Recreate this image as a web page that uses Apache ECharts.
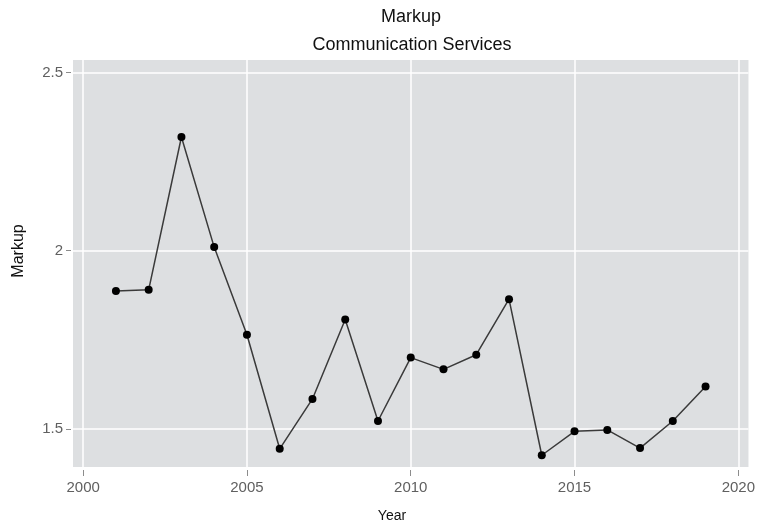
<!DOCTYPE html>
<html>
<head>
<meta charset="utf-8">
<script src="https://cdn.jsdelivr.net/npm/echarts@6/dist/echarts.min.js"></script>
<style>
  html, body { margin: 0; padding: 0; background: #ffffff; }
  #chart { width: 758px; height: 526px; }
</style>
</head>
<body>
<div id="chart"></div>
<script>
// Markup by year, Communication Services sector
const years = [2001, 2002, 2003, 2004, 2005, 2006, 2007, 2008, 2009, 2010,
               2011, 2012, 2013, 2014, 2015, 2016, 2017, 2018, 2019];
const markup = [1.887, 1.890, 2.319, 2.010, 1.764, 1.444, 1.584, 1.807, 1.522, 1.700,
                1.667, 1.708, 1.864, 1.426, 1.493, 1.497, 1.446, 1.522, 1.619];
const xTicks = [2000, 2005, 2010, 2015, 2020];
const yTicks = [1.5, 2, 2.5];

const chartTitle = 'Markup';
const chartSubtitle = 'Communication Services';
const xName = 'Year';
const yName = 'Markup';

const FONT = '"Liberation Sans", Arial, Helvetica, sans-serif';
const PANEL = '#DDDFE1';
const TICK_TEXT = '#606060';
const TICK_LINE = '#8c8c8c';

const chart = echarts.init(document.getElementById('chart'), null, { renderer: 'canvas' });

const points = years.map((y, i) => [y, markup[i]]);

chart.setOption({
  animation: false,
  backgroundColor: '#ffffff',
  grid: {
    left: 73, right: 8, top: 60, bottom: 59,
    show: true, backgroundColor: PANEL, borderWidth: 0
  },
  xAxis: {
    type: 'value',
    min: 1999.69, max: 2020.31,
    offset: 3,
    axisLine: { show: false },
    axisTick: { show: true, length: 6, customValues: xTicks,
                lineStyle: { color: TICK_LINE, width: 1 } },
    axisLabel: { customValues: xTicks, margin: 10, color: TICK_TEXT,
                 fontFamily: FONT, fontSize: 15,
                 formatter: v => String(v) },
    splitLine: { show: true, lineStyle: { color: '#ffffff', width: 1.5 } }
  },
  yAxis: {
    type: 'value',
    min: 1.393, max: 2.535,
    offset: 2,
    axisLine: { show: false },
    axisTick: { show: true, length: 5, customValues: yTicks,
                lineStyle: { color: TICK_LINE, width: 1 } },
    axisLabel: { customValues: yTicks, margin: 8, color: TICK_TEXT,
                 fontFamily: FONT, fontSize: 15,
                 formatter: v => String(v) },
    splitLine: { show: true, lineStyle: { color: '#ffffff', width: 1.5 } }
  },
  graphic: [
    { type: 'text', x: 411, y: 17,
      style: { text: chartTitle, font: '18px ' + FONT, fill: '#111111',
               align: 'center', verticalAlign: 'middle' } },
    { type: 'text', x: 412, y: 45,
      style: { text: chartSubtitle, font: '18px ' + FONT, fill: '#111111',
               align: 'center', verticalAlign: 'middle' } },
    { type: 'text', x: 392, y: 516,
      style: { text: xName, font: '14px ' + FONT, fill: '#111111',
               align: 'center', verticalAlign: 'middle' } },
    { type: 'text', x: 19, y: 251, rotation: Math.PI / 2,
      style: { text: yName, font: '16px ' + FONT, fill: '#111111',
               align: 'center', verticalAlign: 'middle' } }
  ],
  series: [{
    type: 'line',
    data: points,
    symbol: 'circle',
    symbolSize: 8,
    lineStyle: { color: '#3a3a3a', width: 1.5 },
    itemStyle: { color: '#000000' },
    z: 3
  }]
});
</script>
</body>
</html>
